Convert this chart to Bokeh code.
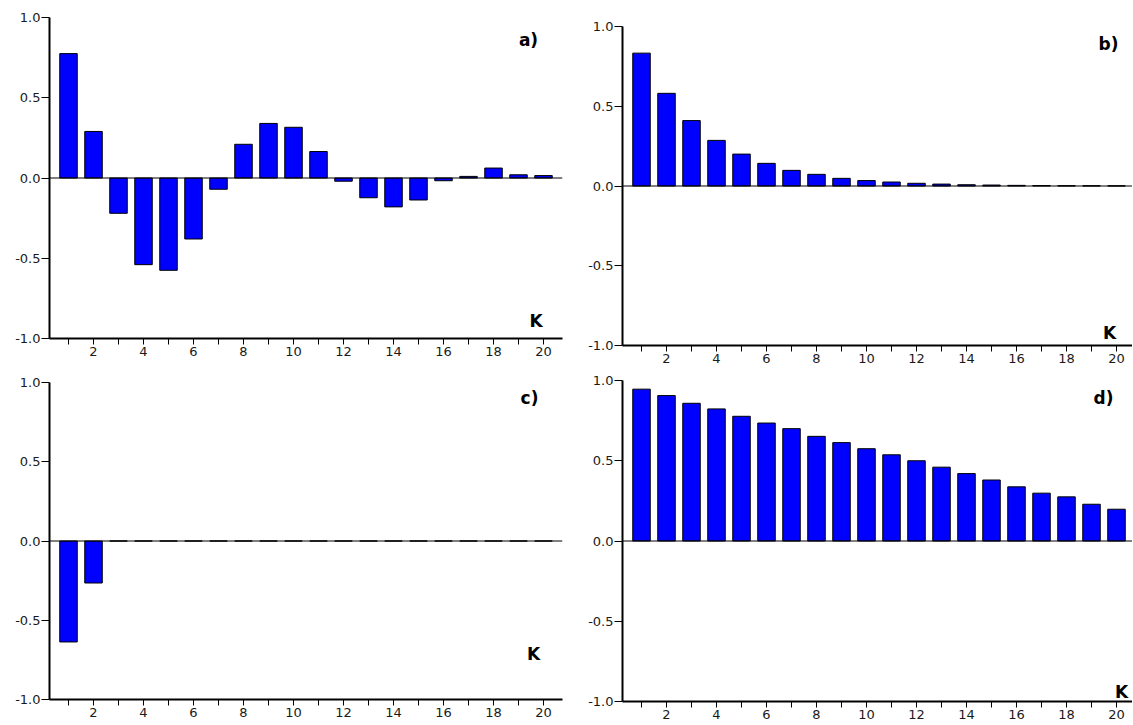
from bokeh.plotting import figure
from bokeh.layouts import column, row
from bokeh.models import Range1d, FixedTicker, PrintfTickFormatter, Span, Spacer
from bokeh.core.properties import value
from bokeh.embed import file_html
from bokeh.resources import INLINE

lags = list(range(1, 21))

acf_a = [0.775, 0.29, -0.22, -0.54, -0.575, -0.38, -0.07, 0.21, 0.34, 0.316,
         0.165, -0.02, -0.123, -0.18, -0.137, -0.017, 0.01, 0.062, 0.02, 0.015]
acf_b = [0.833, 0.581, 0.41, 0.286, 0.20, 0.142, 0.098, 0.073, 0.048, 0.034,
         0.025, 0.017, 0.012, 0.008, 0.006, 0.004, 0.003, 0.002, 0.0015, 0.001]
acf_c = [-0.637, -0.265, 0, 0, 0, 0, 0, 0, 0, 0,
         0, 0, 0, 0, 0, 0, 0, 0, 0, 0]
acf_d = [0.946, 0.906, 0.858, 0.823, 0.777, 0.735, 0.70, 0.652, 0.613, 0.575,
         0.537, 0.50, 0.46, 0.42, 0.38, 0.3375, 0.298, 0.275, 0.229, 0.198]

panel_labels = ["a)", "b)", "c)", "d)"]
x_tick_labels = list(range(2, 21, 2))
y_ticks = [-1.0, -0.5, 0.0, 0.5, 1.0]

FONT = "DejaVu Sans"


def make_panel(vals, label, lab_pos, k_pos, x_end, width, height,
               b_left, b_right, b_top, b_bottom):
    p = figure(output_backend="svg", toolbar_location=None,
               width=width, height=height,
               x_range=Range1d(0.24, x_end), y_range=Range1d(-1.0, 1.0),
               min_border_left=b_left, min_border_right=b_right,
               min_border_top=b_top, min_border_bottom=b_bottom)
    p.outline_line_color = None
    p.grid.visible = False
    p.background_fill_color = "white"
    p.border_fill_color = "white"

    p.vbar(x=lags, top=vals, bottom=0, width=0.7,
           fill_color="#0000FF", line_color="black", line_width=1)
    p.add_layout(Span(location=0, dimension="width",
                      line_color="black", line_width=1))

    xa = p.xaxis[0]
    xa.ticker = FixedTicker(ticks=x_tick_labels,
                            minor_ticks=[k for k in lags if k % 2 == 1])
    xa.axis_line_width = 2
    xa.axis_line_color = "black"
    xa.major_tick_out = 6
    xa.major_tick_in = 0
    xa.minor_tick_out = 6
    xa.minor_tick_in = 0
    xa.major_tick_line_color = "black"
    xa.minor_tick_line_color = "black"
    xa.major_label_standoff = 2
    xa.major_label_text_font = FONT
    xa.major_label_text_font_size = "13px"
    xa.major_label_text_color = "#1a1a1a"

    ya = p.yaxis[0]
    ya.ticker = FixedTicker(ticks=y_ticks, minor_ticks=[])
    ya.formatter = PrintfTickFormatter(format="%.1f")
    ya.axis_line_width = 2
    ya.axis_line_color = "black"
    ya.major_tick_out = 8
    ya.major_tick_in = 0
    ya.minor_tick_out = 0
    ya.minor_tick_in = 0
    ya.major_tick_line_color = "black"
    ya.major_label_standoff = 1
    ya.major_label_text_font = FONT
    ya.major_label_text_font_size = "13px"
    ya.major_label_text_color = "#1a1a1a"

    p.text(x=[lab_pos[0]], y=[lab_pos[1]], text=[label],
           text_font=value(FONT), text_font_style="bold",
           text_font_size="17px", text_align="center",
           text_baseline="middle", text_color="black")
    p.text(x=[k_pos[0]], y=[k_pos[1]], text=["K"],
           text_font=value(FONT), text_font_style="bold",
           text_font_size="17px", text_align="center",
           text_baseline="middle", text_color="black")
    return p


W1 = 49 + 513 + 10
W2 = 50 + 510

pa = make_panel(acf_a, panel_labels[0], (19.4, 0.86), (19.7, -0.89),
                20.76, W1, 17 + 321 + 24, 49, 10, 17, 24)
pb = make_panel(acf_b, panel_labels[1], (19.68, 0.89), (19.72, -0.92),
                20.64, W2, 17 + 319 + 24, 50, 0, 17, 24)
pc = make_panel(acf_c, panel_labels[2], (19.44, 0.90), (19.6, -0.716),
                20.76, W1, 13 + 317 + 24, 49, 10, 13, 24)
pd = make_panel(acf_d, panel_labels[3], (19.48, 0.89), (20.2, -0.94),
                20.64, W2, 11 + 321 + 23, 50, 0, 11, 23)

col_a = column(pa, width=W1, height=369)
col_b = column(Spacer(width=W2, height=9), pb, width=W2, height=369)
col_c = column(pc, width=W1, height=355)
col_d = column(pd, width=W2, height=355)

layout = column(row(col_a, col_b), row(col_c, col_d))

open("out.html", "w").write(file_html(layout, INLINE))
